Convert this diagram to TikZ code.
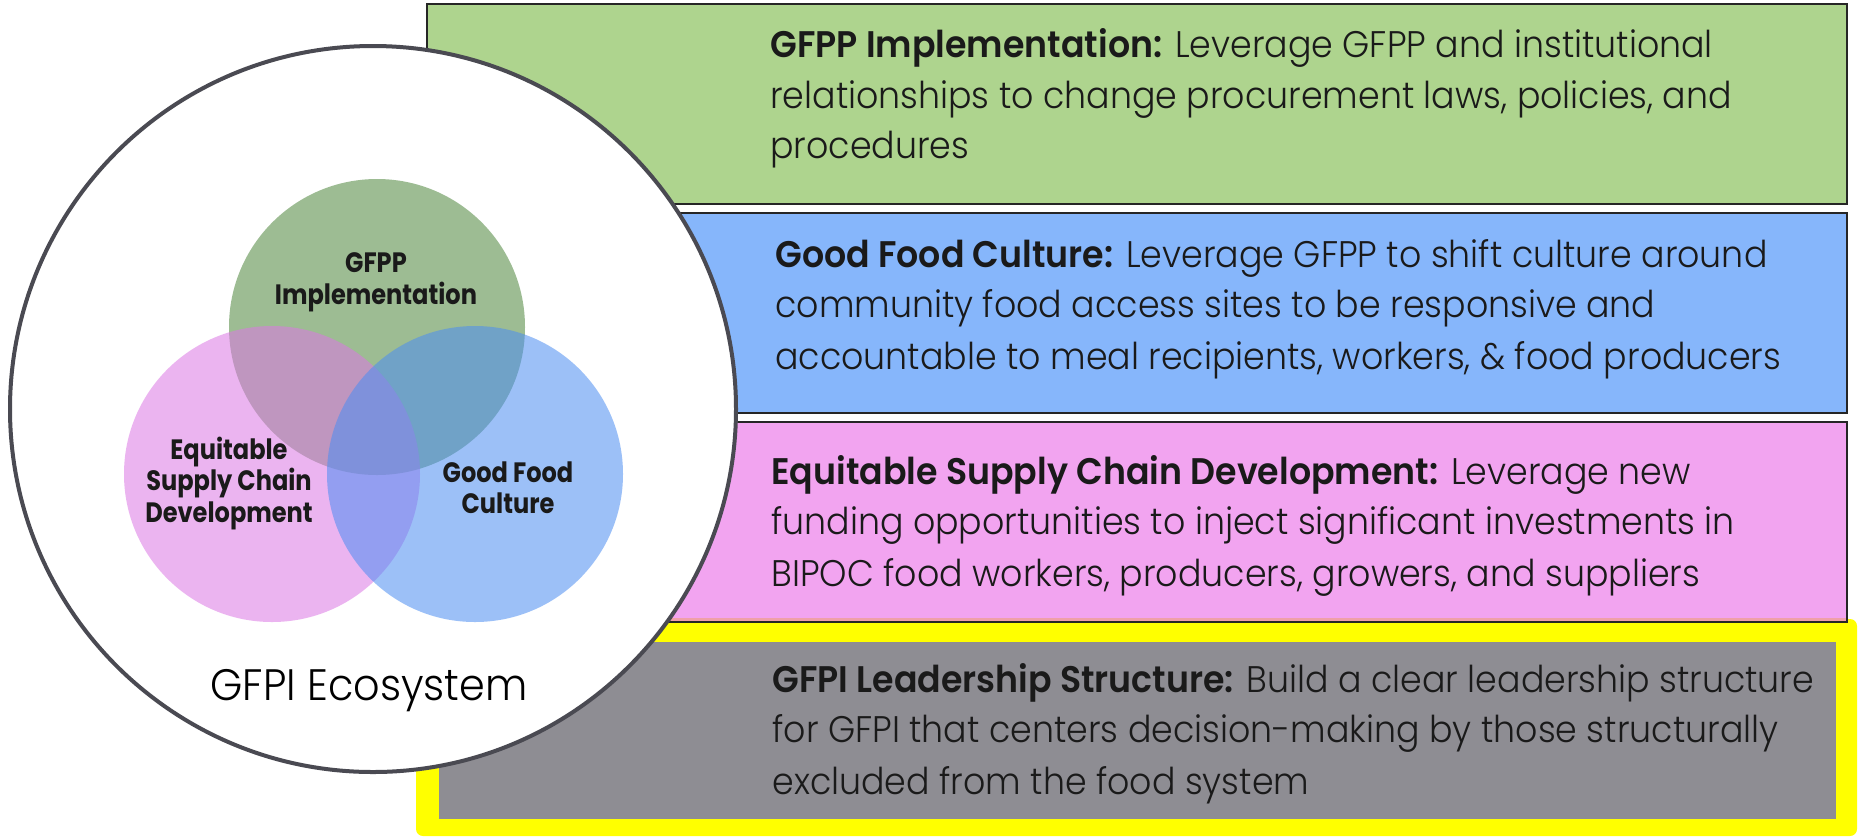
\documentclass[tikz,border=0pt]{standalone}
\usepackage{fontspec}
\setmainfont{Poppins}[FakeStretch=0.94, UprightFont=* Light, BoldFont=* SemiBold]
\newfontfamily\vennfont{Poppins}[FakeStretch=0.86]
\definecolor{boxgreen}{HTML}{AED48E}
\definecolor{boxblue}{HTML}{86B6FB}
\definecolor{boxpink}{HTML}{F2A4F0}
\definecolor{boxgray}{HTML}{8E8D93}
\definecolor{hiyellow}{HTML}{FFFF00}
\definecolor{ringcol}{HTML}{4A4A52}
\definecolor{vgreen}{HTML}{4D853B}
\definecolor{vpink}{HTML}{DB77E4}
\definecolor{vblue}{HTML}{4C8DF2}
\definecolor{txt}{HTML}{1A1A1A}
\definecolor{salmon}{HTML}{F0A0A8}
\tikzset{
  panel/.style={draw=black!85, line width=1pt},
  txtline/.style={anchor=base west, inner sep=0pt, text=txt, font=\fontsize{18.5}{25}\selectfont},
  vennlabel/.style={anchor=base, inner sep=0pt, text=txt, font=\vennfont\bfseries\fontsize{14}{16}\selectfont},
  venn/.style={fill opacity=0.55},
}
\begin{document}
\begin{tikzpicture}[x=0.5pt,y=-0.5pt]
\useasboundingbox (0,0) rectangle (1858,837);
% yellow highlight and gray panel
\fill[hiyellow, rounded corners=3.5pt] (416,619) rectangle (1857,836);
\fill[boxgray] (439,642) rectangle (1836,819);
% colored panels
\draw[panel, fill=boxpink] (427,422) rectangle (1847,622);
\draw[salmon, line width=1.2pt] (428,619.5) -- (1846,619.5);
\draw[panel, fill=boxblue] (427,213) rectangle (1847,413);
\draw[panel, fill=boxgreen] (427,4) rectangle (1847,204);
% ecosystem circle
\node[circle, draw=ringcol, line width=2pt, fill=white, minimum size=363pt, inner sep=0pt] (eco) at (373,409) {};
% venn circles
\node[circle, venn, fill=vgreen, minimum size=148pt, inner sep=0pt] (vg) at (377,327) {};
\node[circle, venn, fill=vpink, minimum size=148pt, inner sep=0pt] (vp) at (272,474) {};
\node[circle, venn, fill=vblue, minimum size=148pt, inner sep=0pt] (vb) at (475,474) {};
% venn labels
\node[vennlabel] (l1) at (376,272) {GFPP};
\node[vennlabel] (l2) at (376,304) {Implementation};
\node[vennlabel] (l3) at (229,459) {Equitable};
\node[vennlabel] (l4) at (229,490) {Supply Chain};
\node[vennlabel] (l5) at (229,522) {Development};
\node[vennlabel] (l6) at (508,482) {Good Food};
\node[vennlabel] (l7) at (508,513) {Culture};
\node[anchor=base, inner sep=0pt, text=black, font=\fontsize{22}{26}\selectfont] (ecolabel) at (369,700) {GFPI Ecosystem};
% panel texts
\node[txtline] (g1) at (770,57) {\textbf{GFPP Implementation:} Leverage GFPP and institutional};
\node[txtline] (g2) at (770,108) {relationships to change procurement laws, policies, and};
\node[txtline] (g3) at (770,158) {procedures};
\node[txtline] (b1) at (775,267) {\textbf{Good Food Culture:} Leverage GFPP to shift culture around};
\node[txtline] (b2) at (775,317) {community food access sites to be responsive and};
\node[txtline] (b3) at (775,369) {accountable to meal recipients, workers, \& food producers};
\node[txtline] (p1) at (771,484) {\textbf{Equitable Supply Chain Development:} Leverage new};
\node[txtline] (p2) at (771,534) {funding opportunities to inject significant investments in};
\node[txtline] (p3) at (771,586) {BIPOC food workers, producers, growers, and suppliers};
\node[txtline] (y1) at (772,692) {\textbf{GFPI Leadership Structure:} Build a clear leadership structure};
\node[txtline] (y2) at (772,742) {for GFPI that centers decision-making by those structurally};
\node[txtline] (y3) at (772,794) {excluded from the food system};
\end{tikzpicture}
\end{document}
